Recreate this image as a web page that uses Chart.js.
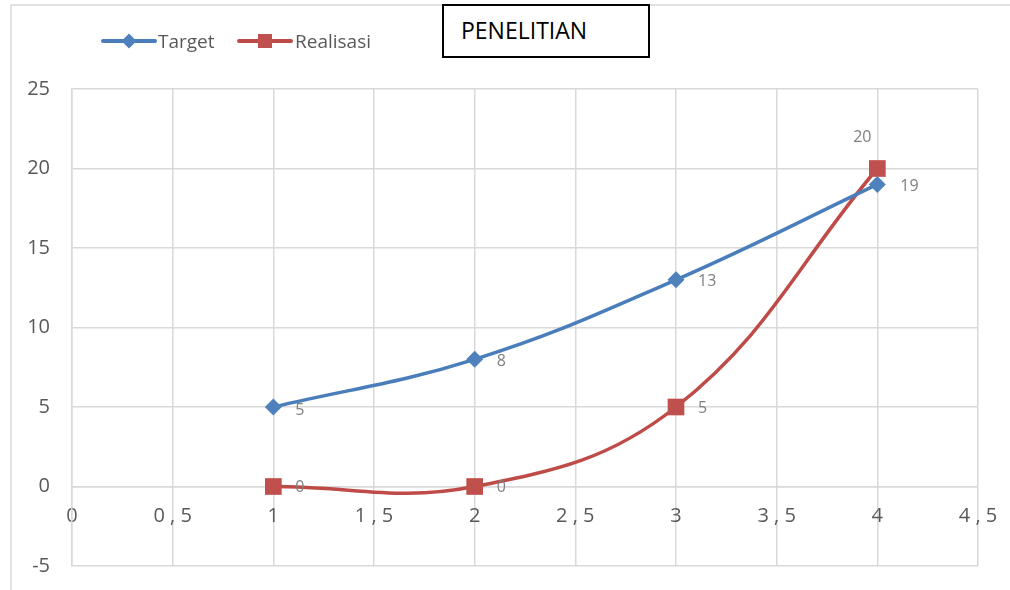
<!DOCTYPE html>
<html><head><meta charset="utf-8">
<script src="https://cdn.jsdelivr.net/npm/chart.js@4/dist/chart.umd.min.js"></script>
<style>
html,body{margin:0;padding:0;background:#fff;}
#wrap{position:relative;width:1010px;height:590px;overflow:hidden;}
#c{position:absolute;left:0;top:0;}
#title{position:absolute;left:442px;top:4px;width:208px;height:54px;box-sizing:border-box;border:2px solid #000;
  font-family:"Open Sans",sans-serif;font-size:23px;line-height:23px;color:#000;padding:13px 0 0 17px;background:#fff;}
</style></head>
<body>
<div id="wrap">
<canvas id="c" width="1010" height="590"></canvas>
<div id="title">PENELITIAN</div>
</div>
<script>
const categories = [1, 2, 3, 4];
const targetValues = [5, 8, 13, 19];
const realisasiValues = [0, 0, 5, 20];
const seriesNames = ['Target', 'Realisasi'];
const xTickLabels = ['0', '0 , 5', '1', '1 , 5', '2', '2 , 5', '3', '3 , 5', '4', '4 , 5'];
const yTickLabels = ['-5', '0', '5', '10', '15', '20', '25'];

const BLUE = '#4a7ebb', BLUE_PT = '#4f81bd';
const RED = '#be4b48', RED_PT = '#c0504d';
const FONT = '"Open Sans", sans-serif';

const toPts = vals => categories.map((c, i) => ({x: c, y: vals[i]}));

const framePlugin = {
  id: 'frame',
  beforeDraw(chart) {
    const ctx = chart.ctx;
    ctx.save();
    ctx.strokeStyle = '#d9d9d9';
    ctx.lineWidth = 1.5;
    ctx.beginPath();
    ctx.moveTo(11, 590); ctx.lineTo(11, 5); ctx.lineTo(1010, 5);
    ctx.stroke();
    ctx.restore();
  }
};

const legendPlugin = {
  id: 'customLegend',
  afterDraw(chart) {
    const ctx = chart.ctx;
    ctx.save();
    const y = 41;
    const items = [
      {name: seriesNames[0], x0: 103, x1: 155, color: BLUE, pt: BLUE_PT, style: 'diamond', tx: 158},
      {name: seriesNames[1], x0: 239, x1: 291, color: RED, pt: RED_PT, style: 'square', tx: 295}
    ];
    items.forEach(it => {
      ctx.strokeStyle = it.color; ctx.lineWidth = 4; ctx.lineCap = 'round';
      ctx.beginPath(); ctx.moveTo(it.x0, y); ctx.lineTo(it.x1, y); ctx.stroke();
      const cx = (it.x0 + it.x1) / 2;
      ctx.fillStyle = it.pt;
      ctx.beginPath();
      if (it.style === 'diamond') {
        ctx.moveTo(cx, y - 7.5); ctx.lineTo(cx + 7.5, y); ctx.lineTo(cx, y + 7.5); ctx.lineTo(cx - 7.5, y); ctx.closePath();
      } else {
        ctx.rect(cx - 7, y - 7, 14, 14);
      }
      ctx.fill();
      ctx.fillStyle = '#595959';
      ctx.font = '19px ' + FONT;
      ctx.textBaseline = 'alphabetic';
      ctx.textAlign = 'left';
      ctx.fillText(it.name, it.tx, 48);
    });
    ctx.restore();
  }
};

// label placement: offsets relative to each point (dx, dy), alignment
const labelPlacement = [
  [{dx: 22, dy: 3, align: 'left'}, {dx: 22, dy: 2, align: 'left'}, {dx: 22, dy: 2, align: 'left'}, {dx: 23, dy: 2, align: 'left'}],
  [{dx: 22, dy: 1, align: 'left'}, {dx: 22, dy: 1, align: 'left'}, {dx: 22, dy: 1, align: 'left'}, {dx: -15, dy: -31, align: 'center'}]
];

const dataLabelPlugin = {
  id: 'dataLabels',
  afterDatasetsDraw(chart) {
    const ctx = chart.ctx;
    ctx.save();
    ctx.font = '16px ' + FONT;
    ctx.fillStyle = '#7f7f7f';
    ctx.textBaseline = 'middle';
    chart.data.datasets.forEach((ds, di) => {
      const meta = chart.getDatasetMeta(di);
      meta.data.forEach((el, i) => {
        const p = labelPlacement[di][i];
        ctx.textAlign = p.align;
        ctx.fillText(String(ds.data[i].y), el.x + p.dx, el.y + p.dy);
      });
    });
    ctx.restore();
  }
};

new Chart(document.getElementById('c'), {
  type: 'line',
  data: {
    datasets: [
      {label: seriesNames[0], data: toPts(targetValues), borderColor: BLUE, backgroundColor: BLUE_PT,
       borderWidth: 3.5, tension: 0.4, pointStyle: 'rectRot', pointRadius: 8.5, pointBorderWidth: 0,
       pointBackgroundColor: BLUE_PT, fill: false},
      {label: seriesNames[1], data: toPts(realisasiValues), borderColor: RED, backgroundColor: RED_PT,
       borderWidth: 3.5, tension: 0.4, pointStyle: 'rect', pointRadius: 11.8, pointBorderWidth: 0,
       pointBackgroundColor: RED_PT, fill: false}
    ]
  },
  options: {
    responsive: false,
    animation: false,
    devicePixelRatio: 1,
    layout: {padding: {left: 10, top: 89, right: 32, bottom: 24}},
    plugins: {legend: {display: false}, tooltip: {enabled: false}},
    scales: {
      x: {
        type: 'linear', min: 0, max: 4.5,
        position: {y: 0},
        grid: {color: '#d9d9d9', lineWidth: 1.5, drawTicks: false},
        border: {color: '#d9d9d9', width: 1.5},
        ticks: {stepSize: 0.5, padding: 18, color: '#595959', font: {family: FONT, size: 20},
                maxRotation: 0, autoSkip: false,
                callback: (v, i) => xTickLabels[i]},
        afterFit(s) { s.paddingLeft = 0; s.paddingRight = 0; }
      },
      y: {
        type: 'linear', min: -5, max: 25,
        grid: {color: '#d9d9d9', lineWidth: 1.5, drawTicks: false},
        border: {color: '#d9d9d9', width: 1.5},
        ticks: {stepSize: 5, padding: 22, color: '#595959', font: {family: FONT, size: 20},
                callback: (v, i) => yTickLabels[i]},
        afterFit(s) { s.width = 62; s.paddingTop = 0; s.paddingBottom = 0; }
      }
    }
  },
  plugins: [framePlugin, legendPlugin, dataLabelPlugin]
});
</script>
</body></html>
